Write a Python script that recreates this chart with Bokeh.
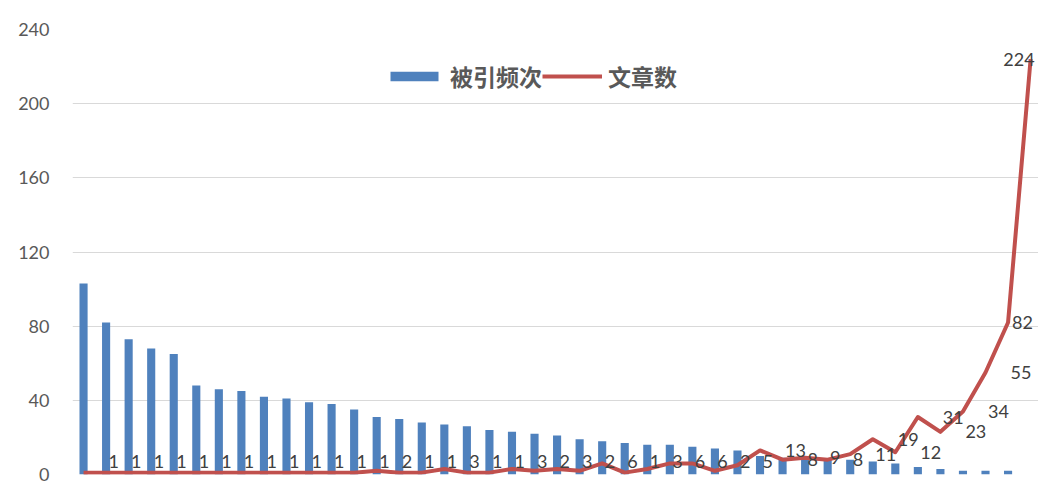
from bokeh.plotting import figure
from bokeh.models import ColumnDataSource, Range1d, Legend, LegendItem, FixedTicker
from bokeh.embed import file_html
from bokeh.resources import INLINE
from bokeh.core.properties import value
import numpy as np

# ---- data ----
categories = list(range(43))
citations = [103, 82, 73, 68, 65, 48, 46, 45, 42, 41, 39, 38, 35, 31, 30,
             28, 27, 26, 24, 23, 22, 21, 19, 18, 17, 16, 16, 15, 14, 13,
             10, 9, 8, 8, 8, 7, 6, 4, 3, 2, 2, 2, 0]
articles = [1, 1, 1, 1, 1, 1, 1, 1, 1, 1, 1, 1, 1, 2, 1, 1, 3, 1, 1, 3, 2,
            3, 2, 6, 1, 3, 6, 6, 2, 5, 13, 8, 9, 8, 11, 19, 12, 31, 23, 34,
            55, 82, 224]
y_ticks = [0, 40, 80, 120, 160, 200, 240]
series_names = ["被引频次", "文章数"]

BLUE = "#4F81BD"
RED = "#C0504D"
DIGIT_FONT = "Lato"
CJK_FONT = "Noto Sans CJK SC"

label_y = np.maximum(np.array(articles, dtype=float), 7.0)
labels = [str(v) for v in articles]

src = ColumnDataSource(dict(x=categories, cit=citations, art=articles))

p = figure(width=1038, height=484, output_backend="svg", toolbar_location=None,
           x_range=Range1d(-0.49, 42.35), y_range=Range1d(0, 240),
           min_border_left=72, min_border_right=0, min_border_top=29,
           min_border_bottom=10, tools="")
p.outline_line_color = None
p.background_fill_color = "white"
p.border_fill_color = "white"

p.xaxis.visible = False
p.xgrid.visible = False
p.ygrid.grid_line_color = "#d9d9d9"
p.ygrid.grid_line_width = 1
p.yaxis.ticker = FixedTicker(ticks=y_ticks)
p.yaxis.axis_line_color = None
p.yaxis.major_tick_line_color = None
p.yaxis.minor_tick_line_color = None
p.yaxis.major_label_text_font = DIGIT_FONT
p.yaxis.major_label_text_font_size = "18px"
p.yaxis.major_label_text_color = "#595959"
p.yaxis.major_label_standoff = 17

bars = p.vbar(x="x", top="cit", width=0.36, fill_color=BLUE, line_color=None,
              source=src)
line = p.line(x="x", y="art", line_width=4, line_color=RED, line_join="round",
              source=src)

# data labels
n = len(categories)
src_main = ColumnDataSource(dict(x=categories[:n - 2], y=list(label_y[:n - 2]),
                                 t=labels[:n - 2]))
src_82 = ColumnDataSource(dict(x=categories[n - 2:n - 1], y=list(label_y[n - 2:n - 1]),
                               t=labels[n - 2:n - 1]))
src_last = ColumnDataSource(dict(x=categories[n - 1:], y=list(label_y[n - 1:]),
                                 t=labels[n - 1:]))
common = dict(text="t", text_font=value(DIGIT_FONT), text_font_size="18px",
              text_color="#404040", text_baseline="middle")
p.text(x="x", y="y", source=src_main, text_align="left", x_offset=25, **common)
p.text(x="x", y="y", source=src_82, text_align="left", x_offset=4, **common)
p.text(x="x", y="y", source=src_last, text_align="right", x_offset=4, **common)

legend = Legend(items=[LegendItem(label=series_names[0], renderers=[bars]),
                       LegendItem(label=series_names[1], renderers=[line])],
                orientation="horizontal", location=(312, 381),
                glyph_width=60, glyph_height=12,
                label_text_font=CJK_FONT, label_text_font_size="23px",
                label_text_font_style="bold", label_text_color="#595959",
                border_line_color=None, background_fill_alpha=0,
                padding=0, spacing=0, label_standoff=6, margin=0)
p.add_layout(legend)

open("out.html", "w").write(file_html(p, INLINE))
